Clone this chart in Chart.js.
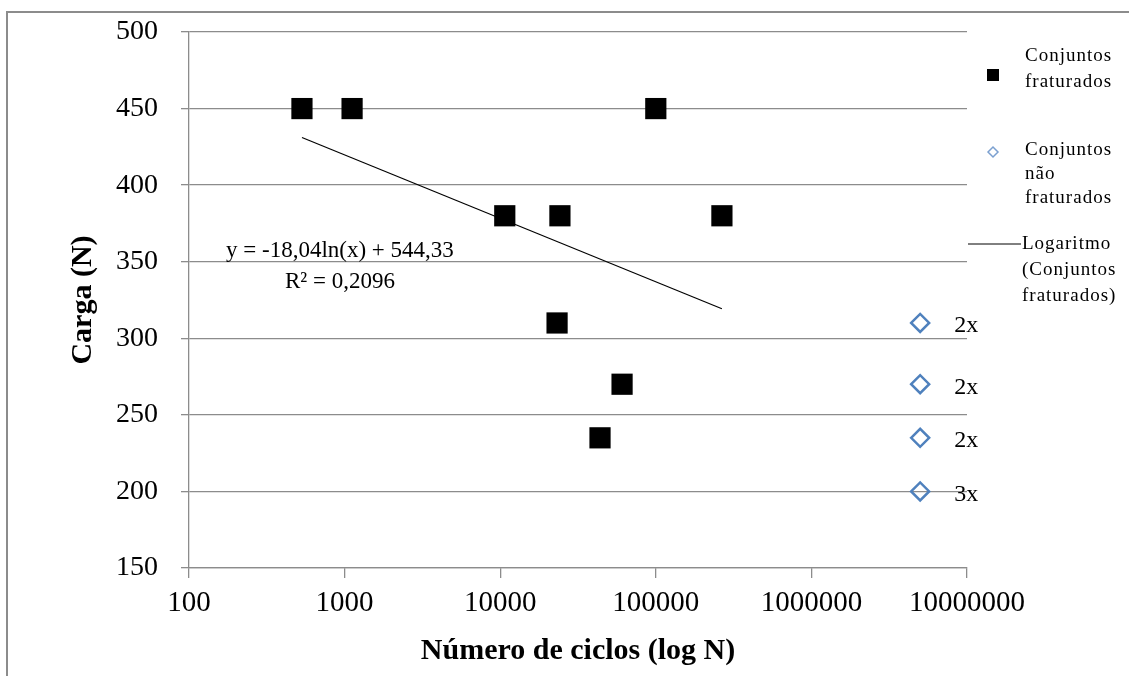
<!DOCTYPE html>
<html>
<head>
<meta charset="utf-8">
<title>Carga x Numero de ciclos</title>
<script src="https://cdn.jsdelivr.net/npm/chart.js@4.4.1/dist/chart.umd.min.js"></script>
<style>
  body { margin: 0; background: #fff; }
  #wrap { width: 1129px; height: 676px; position: relative; }
</style>
</head>
<body>
<div id="wrap"><canvas id="mycanvas1" width="1129" height="676"></canvas></div>
<script>
// dados
var fratCiclos = [532, 1117, 10700, 24200, 23200, 60700, 43800, 100000, 266000];
var fratCarga  = [450, 450, 380, 380, 310, 270, 235, 450, 380];

var naoFratCiclos = [5000000, 5000000, 5000000, 5000000];
var naoFratCarga  = [310, 270, 235, 200];
var naoFratRotulo = ['2x', '2x', '2x', '3x'];

// linha de tendencia (extremos)
var tendCiclos = [532, 266000];
var tendCarga  = [431.1, 319.3];

var xTicks = [100, 1000, 10000, 100000, 1000000, 10000000];
var yTicks = [150, 200, 250, 300, 350, 400, 450, 500];

var equacao = ['y = -18,04ln(x) + 544,33', 'R\u00b2 = 0,2096'];
var equacaoPos = { x: 933, y: [357, 337] };

var serif = "'Liberation Serif', 'Times New Roman', serif";
Chart.defaults.font.family = serif;
Chart.defaults.color = '#000';

function pts(xs, ys) {
  var out = [];
  for (var i in xs) out.push({ x: xs[i], y: ys[i] });
  return out;
}

var extras = {
  id: 'extras',
  afterDraw: function(chart) {
    var ctx = chart.ctx;
    var xs = chart.scales.x, ys = chart.scales.y;
    ctx.save();

    // moldura
    ctx.strokeStyle = '#8c8c8c';
    ctx.lineWidth = 2;
    ctx.beginPath();
    ctx.moveTo(7, 676);
    ctx.lineTo(7, 12);
    ctx.lineTo(1129, 12);
    ctx.stroke();

    // equacao
    ctx.fillStyle = '#000';
    ctx.textAlign = 'center';
    ctx.textBaseline = 'middle';
    ctx.font = '23px ' + serif;
    var ex = xs.getPixelForValue(equacaoPos.x);
    ctx.fillText(equacao[0], ex, ys.getPixelForValue(equacaoPos.y[0]));
    ctx.fillText(equacao[1], ex, ys.getPixelForValue(equacaoPos.y[1]));

    // rotulos 2x / 3x
    ctx.font = '24px ' + serif;
    ctx.textAlign = 'left';
    for (var i in naoFratCiclos) {
      ctx.fillText(naoFratRotulo[i], xs.getPixelForValue(naoFratCiclos[i]) + 34, ys.getPixelForValue(naoFratCarga[i]) + 3);
    }

    // legenda
    ctx.font = '19px ' + serif;
    try { ctx.letterSpacing = '1px'; } catch (e) {}
    var lx = 1025;
    ctx.fillStyle = '#000';
    ctx.fillRect(987, 69, 12, 12);
    ctx.fillText('Conjuntos', lx, 56);
    ctx.fillText('fraturados', lx, 82);

    ctx.strokeStyle = '#7ba0d0';
    ctx.lineWidth = 1.5;
    ctx.beginPath();
    ctx.moveTo(988, 152); ctx.lineTo(993, 147); ctx.lineTo(998, 152); ctx.lineTo(993, 157);
    ctx.closePath();
    ctx.stroke();
    ctx.fillText('Conjuntos', lx, 150);
    ctx.fillText('n\u00e3o', lx, 174);
    ctx.fillText('fraturados', lx, 198);

    ctx.strokeStyle = '#000';
    ctx.lineWidth = 1;
    ctx.beginPath();
    ctx.moveTo(968, 244); ctx.lineTo(1021, 244);
    ctx.stroke();
    ctx.fillText('Logaritmo', 1022, 244);
    ctx.fillText('(Conjuntos', 1022, 270);
    ctx.fillText('fraturados)', 1022, 296);

    ctx.restore();
  }
};

var chartdata = {
  datasets: [
    {
      label: 'Logaritmo (Conjuntos fraturados)',
      type: 'line',
      data: pts(tendCiclos, tendCarga),
      borderColor: '#000',
      borderWidth: 1.2,
      pointRadius: 0,
      fill: false
    },
    {
      label: 'Conjuntos fraturados',
      data: pts(fratCiclos, fratCarga),
      pointStyle: 'rect',
      pointRadius: 15,
      backgroundColor: '#000',
      borderColor: '#000',
      borderWidth: 0
    },
    {
      label: 'Conjuntos n\u00e3o fraturados',
      data: pts(naoFratCiclos, naoFratCarga),
      pointStyle: 'rectRot',
      pointRadius: 9,
      backgroundColor: 'rgba(255,255,255,0)',
      borderColor: '#4f81bd',
      borderWidth: 2.5
    }
  ]
};

var ctx = document.getElementById('mycanvas1');
var grafico = new Chart(ctx, {
  type: 'scatter',
  data: chartdata,
  plugins: [extras],
  options: {
    responsive: false,
    animation: false,
    layout: { padding: { left: 0, top: 32, right: 162, bottom: 0 } },
    plugins: { legend: { display: false }, tooltip: { enabled: false } },
    scales: {
      x: {
        type: 'logarithmic',
        min: 100,
        max: 10000000,
        afterBuildTicks: function(scale) {
          scale.ticks = xTicks.map(function(v) { return { value: v }; });
        },
        afterFit: function(scale) {
          scale.height = 108;
          scale.paddingLeft = 0;
          scale.paddingRight = 0;
        },
        ticks: {
          autoSkip: false,
          maxRotation: 0,
          padding: 8,
          font: { size: 29 },
          callback: function(v) { return String(v); }
        },
        grid: { drawOnChartArea: false, drawTicks: true, tickLength: 10, color: '#8c8c8c', lineWidth: 1.3 },
        border: { color: '#8c8c8c', width: 1.3 },
        title: {
          display: true,
          text: 'N\u00famero de ciclos (log N)',
          font: { size: 30, weight: 'bold' },
          padding: { top: 0, bottom: 7 }
        }
      },
      y: {
        min: 150,
        max: 500,
        afterBuildTicks: function(scale) {
          scale.ticks = yTicks.map(function(v) { return { value: v }; });
        },
        afterFit: function(scale) {
          scale.width = 189;
          scale.paddingTop = 0;
          scale.paddingBottom = 0;
        },
        ticks: { padding: 23, font: { size: 28 } },
        grid: { color: '#8c8c8c', lineWidth: 1.3, tickLength: 8 },
        border: { color: '#8c8c8c', width: 1.3 },
        title: {
          display: true,
          text: 'Carga (N)',
          font: { size: 30, weight: 'bold' },
          padding: { top: 65, bottom: 0 }
        }
      }
    }
  }
});
</script>
</body>
</html>
